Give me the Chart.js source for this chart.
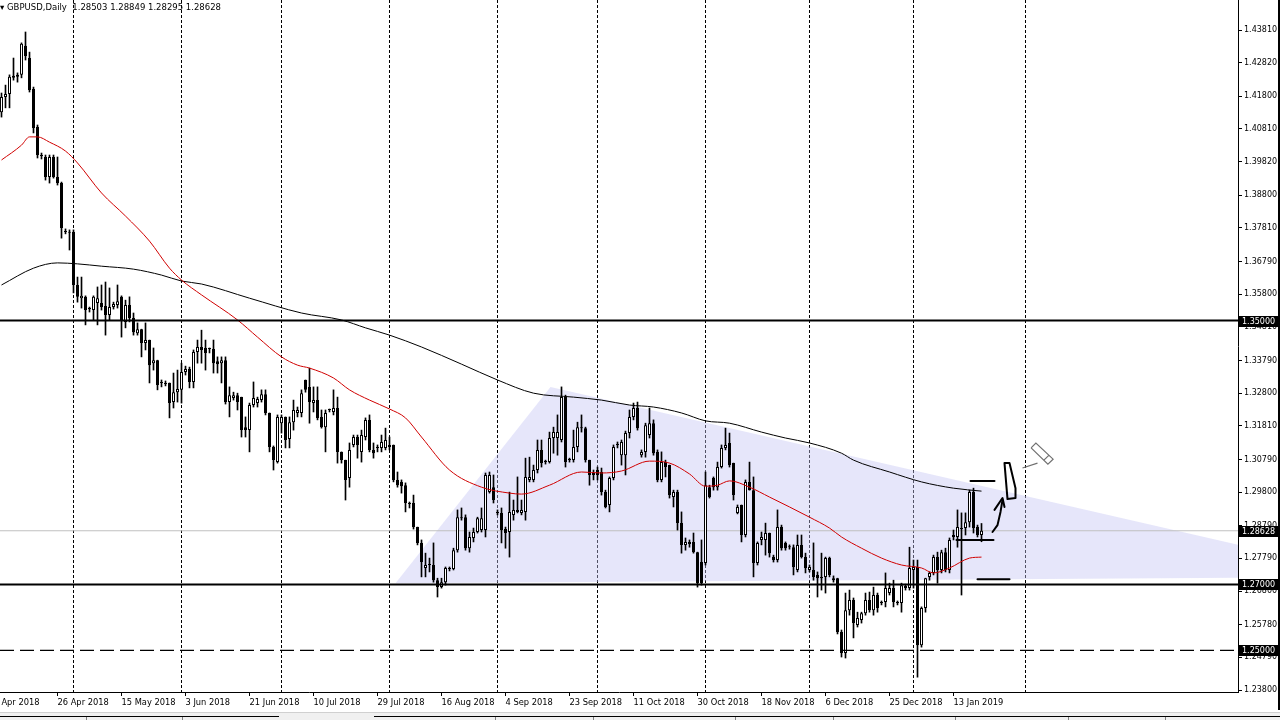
<!DOCTYPE html>
<html><head><meta charset="utf-8">
<script src="https://cdn.jsdelivr.net/npm/chart.js@4.4.1/dist/chart.umd.min.js"></script>
<style>
html,body{margin:0;padding:0;background:#fff;overflow:hidden;}
#wrap{position:relative;width:1280px;height:720px;background:#fff;}
#c{position:absolute;left:0;top:0;}
#hdr{position:absolute;left:0;top:1px;font:8.5px "DejaVu Sans";color:#000;white-space:pre;line-height:12px;}
#rb{position:absolute;left:1278px;top:0;width:2px;height:710px;background:#000;}
#tabs{position:absolute;left:0;top:712px;width:1280px;height:8px;background:#f0f0f0;border-top:1px solid #d0d0d0;}
.tl{position:absolute;top:3px;height:1px;background:#000;}
.tab{position:absolute;top:4px;width:1px;height:4px;background:#808080;}
</style></head>
<body><div id="wrap">
<canvas id="c" width="1280" height="712"></canvas>
<div id="hdr">▾ GBPUSD,Daily  1.28503 1.28849 1.28295 1.28628</div>
<div id="rb"></div>
<div id="tabs">
<div class="tl" style="left:0;width:279px"></div><div class="tl" style="left:374px;width:906px"></div>
<div class="tab" style="left:86px"></div><div class="tab" style="left:182px"></div>
<div class="tab" style="left:495px"></div><div class="tab" style="left:593px"></div><div class="tab" style="left:735px"></div>
<div class="tab" style="left:833px"></div><div class="tab" style="left:955px"></div><div class="tab" style="left:1068px"></div><div class="tab" style="left:1165px"></div>
</div>
</div>
<script>
// ---------------- DATA ----------------
const symbolTitle = 'GBPUSD,Daily';
const firstBarDate = [2018, 3, 10]; // 10 Apr 2018 (UTC y, m0, d) – date of first candle
const opens = [
1.4132,1.4178,1.4187,1.4236,1.4239,1.4245,1.4333,1.4296,1.4202,1.4087,
1.4002,1.3996,1.3935,1.3996,1.3935,1.3917,1.3772,1.3769,1.3769,1.3608,
1.3568,1.3572,1.3535,1.3532,1.3553,1.3553,1.3544,1.3517,1.3541,1.3547,
1.3572,1.3496,1.3547,1.3508,1.3462,1.3474,1.3432,1.3441,1.3371,1.3380,
1.3311,1.3311,1.3311,1.3253,1.3283,1.3290,1.3344,1.3353,1.3314,1.3405,
1.3420,1.3417,1.3414,1.3414,1.3377,1.3371,1.3380,1.3253,1.3265,1.3274,
1.3268,1.3177,1.3168,1.3244,1.3250,1.3259,1.3277,1.3220,1.3117,1.3071,
1.3189,1.3208,1.3141,1.3192,1.3220,1.3220,1.3320,1.3299,1.3250,1.3259,
1.3208,1.3177,1.3229,1.3223,1.3235,1.3102,1.3077,1.3023,1.3123,1.3147,
1.3102,1.3147,1.3199,1.3108,1.3114,1.3114,1.3114,1.3117,1.3123,1.3017,
1.3011,1.3001,1.2944,1.2947,1.2874,1.2826,1.2750,1.2759,1.2759,1.2713,
1.2692,1.2707,1.2747,1.2747,1.2804,1.2901,1.2904,1.2810,1.2841,1.2859,
1.2865,1.2865,1.2980,1.2995,1.2917,1.2917,1.2868,1.2859,1.2911,1.2926,
1.2917,1.2920,1.3017,1.3017,1.3047,1.3108,1.3071,1.3071,1.3144,1.3144,
1.3138,1.3268,1.3077,1.3077,1.3117,1.3177,1.3174,1.3077,1.3038,1.3047,
1.3041,1.2980,1.2941,1.3023,1.3123,1.3092,1.3092,1.3159,1.3208,1.3235,
1.3092,1.3102,1.3153,1.3189,1.3102,1.3017,1.3071,1.3062,1.2965,1.2980,
1.2886,1.2820,1.2823,1.2829,1.2798,1.2768,1.2765,1.2995,1.3023,1.2995,
1.3056,1.3114,1.3129,1.3068,1.2917,1.2941,1.2850,1.3011,1.2986,1.2765,
1.2835,1.2835,1.2856,1.2783,1.2774,1.2874,1.2826,1.2813,1.2813,1.2744,
1.2820,1.2783,1.2744,1.2744,1.2729,1.2719,1.2723,1.2780,1.2713,1.2719,
1.2556,1.2492,1.2622,1.2653,1.2577,1.2592,1.2613,1.2653,1.2622,1.2668,
1.2644,1.2647,1.2674,1.2689,1.2644,1.2644,1.2689,1.2689,1.2744,1.2753,
1.2516,1.2629,1.2723,1.2735,1.2783,1.2744,1.2798,1.2744,1.2850,1.2844,
1.2871,1.2871,1.2889,1.2980,1.2874,1.28503];
const highs = [
1.4190,1.4214,1.4245,1.4296,1.4251,1.4342,1.4375,1.4314,1.4208,1.4093,
1.4008,1.4002,1.4002,1.4002,1.3996,1.3920,1.3778,1.3775,1.3775,1.3632,
1.3632,1.3575,1.3541,1.3575,1.3602,1.3608,1.3617,1.3599,1.3556,1.3608,
1.3575,1.3562,1.3572,1.3523,1.3493,1.3474,1.3493,1.3441,1.3417,1.3380,
1.3320,1.3317,1.3311,1.3341,1.3350,1.3371,1.3362,1.3359,1.3411,1.3441,
1.3471,1.3441,1.3417,1.3441,1.3390,1.3390,1.3390,1.3299,1.3283,1.3280,
1.3268,1.3208,1.3250,1.3314,1.3268,1.3290,1.3290,1.3220,1.3120,1.3214,
1.3214,1.3208,1.3208,1.3259,1.3238,1.3290,1.3320,1.3356,1.3299,1.3299,
1.3229,1.3229,1.3232,1.3290,1.3268,1.3102,1.3077,1.3129,1.3153,1.3153,
1.3168,1.3205,1.3214,1.3129,1.3123,1.3153,1.3174,1.3147,1.3123,1.3041,
1.3017,1.3008,1.2950,1.2971,1.2874,1.2835,1.2795,1.2780,1.2826,1.2719,
1.2719,1.2753,1.2753,1.2810,1.2926,1.2932,1.2911,1.2859,1.2871,1.2904,
1.2932,1.3038,1.3041,1.3032,1.2926,1.2932,1.2874,1.2980,1.2956,1.3026,
1.2956,1.3083,1.3086,1.3062,1.3138,1.3138,1.3077,1.3162,1.3177,1.3214,
1.3299,1.3274,1.3083,1.3168,1.3192,1.3214,1.3177,1.3077,1.3047,1.3056,
1.3053,1.2986,1.3026,1.3123,1.3132,1.3138,1.3165,1.3229,1.3250,1.3253,
1.3108,1.3189,1.3235,1.3199,1.3108,1.3102,1.3077,1.3062,1.2986,1.2986,
1.2920,1.2841,1.2835,1.2856,1.2798,1.2835,1.3041,1.3001,1.3026,1.3071,
1.3123,1.3174,1.3159,1.3068,1.2941,1.2941,1.3017,1.3071,1.3026,1.2829,
1.2859,1.2886,1.2856,1.2789,1.2926,1.2880,1.2829,1.2820,1.2820,1.2850,
1.2850,1.2795,1.2759,1.2826,1.2738,1.2795,1.2783,1.2783,1.2726,1.2719,
1.2562,1.2674,1.2683,1.2659,1.2616,1.2616,1.2674,1.2677,1.2692,1.2674,
1.2650,1.2735,1.2704,1.2713,1.2650,1.2704,1.2701,1.2813,1.2774,1.2774,
1.2632,1.2719,1.2738,1.2789,1.2798,1.2804,1.2810,1.2841,1.2865,1.2926,
1.2917,1.2917,1.2986,1.2992,1.2880,1.28849];
const lows = [
1.4117,1.4145,1.4145,1.4229,1.4223,1.4236,1.4290,1.4193,1.4069,1.3993,
1.3990,1.3926,1.3917,1.3932,1.3911,1.3750,1.3763,1.3714,1.3584,1.3556,
1.3538,1.3487,1.3526,1.3502,1.3487,1.3532,1.3456,1.3502,1.3535,1.3538,
1.3450,1.3478,1.3496,1.3456,1.3456,1.3390,1.3411,1.3311,1.3350,1.3290,
1.3299,1.3302,1.3205,1.3235,1.3253,1.3250,1.3335,1.3296,1.3296,1.3371,
1.3371,1.3350,1.3402,1.3341,1.3341,1.3311,1.3247,1.3208,1.3259,1.3229,
1.3147,1.3147,1.3102,1.3238,1.3238,1.3253,1.3214,1.3102,1.3047,1.3068,
1.3159,1.3114,1.3114,1.3168,1.3208,1.3208,1.3283,1.3189,1.3223,1.3199,
1.3174,1.3102,1.3223,1.3214,1.3068,1.3068,1.2956,1.2995,1.3117,1.3083,
1.3071,1.3138,1.3102,1.3083,1.3102,1.3102,1.3108,1.3108,1.3011,1.2995,
1.2977,1.2920,1.2932,1.2868,1.2820,1.2723,1.2723,1.2738,1.2707,1.2662,
1.2689,1.2698,1.2741,1.2744,1.2798,1.2895,1.2804,1.2798,1.2829,1.2856,
1.2859,1.2844,1.2977,1.2947,1.2911,1.2826,1.2810,1.2783,1.2895,1.2917,
1.2911,1.2895,1.3011,1.3011,1.3038,1.3056,1.3065,1.3068,1.3098,1.3092,
1.3132,1.3056,1.3071,1.3071,1.3102,1.3162,1.3071,1.3001,1.3017,1.3017,
1.2971,1.2932,1.2920,1.3017,1.3114,1.3062,1.3032,1.3144,1.3199,1.3168,
1.3086,1.3086,1.3144,1.3092,1.3011,1.3011,1.3026,1.2962,1.2935,1.2865,
1.2795,1.2804,1.2813,1.2795,1.2692,1.2698,1.2759,1.2962,1.2986,1.2986,
1.3053,1.3108,1.3056,1.2956,1.2914,1.2829,1.2844,1.2986,1.2723,1.2759,
1.2820,1.2789,1.2783,1.2768,1.2768,1.2804,1.2804,1.2807,1.2729,1.2738,
1.2780,1.2735,1.2738,1.2713,1.2662,1.2683,1.2674,1.2723,1.2707,1.2550,
1.2480,1.2477,1.2607,1.2538,1.2571,1.2583,1.2607,1.2616,1.2607,1.2616,
1.2638,1.2632,1.2668,1.2632,1.2638,1.2616,1.2683,1.2683,1.2689,1.2419,
1.2510,1.2616,1.2713,1.2729,1.2704,1.2735,1.2738,1.2735,1.2835,1.2813,
1.2668,1.2850,1.2874,1.2856,1.2844,1.28295];
const closes = [
1.4178,1.4187,1.4239,1.4242,1.4245,1.4339,1.4302,1.4199,1.4084,1.4002,
1.3999,1.3935,1.3996,1.3935,1.3917,1.3781,1.3769,1.3766,1.3608,1.3572,
1.3575,1.3532,1.3535,1.3572,1.3568,1.3541,1.3517,1.3541,1.3550,1.3559,
1.3502,1.3547,1.3508,1.3465,1.3474,1.3432,1.3441,1.3365,1.3380,1.3305,
1.3311,1.3308,1.3250,1.3283,1.3293,1.3344,1.3353,1.3314,1.3405,1.3420,
1.3411,1.3402,1.3414,1.3371,1.3368,1.3380,1.3253,1.3274,1.3274,1.3253,
1.3168,1.3168,1.3244,1.3265,1.3262,1.3277,1.3220,1.3117,1.3077,1.3208,
1.3208,1.3138,1.3192,1.3229,1.3229,1.3280,1.3290,1.3253,1.3259,1.3205,
1.3177,1.3220,1.3229,1.3235,1.3102,1.3077,1.3017,1.3108,1.3147,1.3123,
1.3153,1.3199,1.3108,1.3098,1.3114,1.3132,1.3138,1.3123,1.3017,1.3001,
1.2998,1.2947,1.2944,1.2874,1.2826,1.2768,1.2759,1.2759,1.2713,1.2692,
1.2707,1.2750,1.2747,1.2804,1.2904,1.2904,1.2810,1.2844,1.2859,1.2901,
1.2901,1.3032,1.3032,1.2956,1.2917,1.2865,1.2856,1.2920,1.2926,1.2920,
1.2926,1.3026,1.3026,1.3047,1.3108,1.3068,1.3071,1.3144,1.3162,1.3162,
1.3268,1.3071,1.3077,1.3117,1.3177,1.3174,1.3077,1.3032,1.3032,1.3032,
1.2980,1.2935,1.3023,1.3117,1.3123,1.3132,1.3159,1.3208,1.3235,1.3174,
1.3102,1.3183,1.3189,1.3098,1.3017,1.3071,1.3056,1.2971,1.2980,1.2886,
1.2820,1.2829,1.2829,1.2798,1.2704,1.2704,1.3001,1.2965,1.2995,1.3056,
1.3114,1.3123,1.3062,1.2971,1.2935,1.2850,1.3011,1.2986,1.2765,1.2826,
1.2844,1.2856,1.2795,1.2774,1.2874,1.2810,1.2810,1.2813,1.2753,1.2820,
1.2783,1.2750,1.2753,1.2723,1.2719,1.2723,1.2780,1.2729,1.2719,1.2556,
1.2492,1.2622,1.2653,1.2583,1.2598,1.2613,1.2653,1.2622,1.2668,1.2629,
1.2644,1.2689,1.2689,1.2647,1.2644,1.2698,1.2695,1.2750,1.2753,1.2516,
1.2629,1.2719,1.2735,1.2783,1.2744,1.2798,1.2744,1.2835,1.2844,1.2874,
1.2868,1.2889,1.2980,1.2871,1.2850,1.28628];

// moving averages (bar index, value)
const maFastIdx = [0,5,7,9,12,16,19,25,31,37,42,45,50,59,64,70,74,77,83,87,92,97,101,105,112,120,127,130,137,145,150,155,162,167,172,176,179,182,187,192,197,202,207,210,215,220,225,230,233,237,242,245];
const maFastVal = [1.3987,1.4032,1.4057,1.4057,1.4041,1.4014,1.3978,1.3887,1.3817,1.3741,1.3659,1.3623,1.3578,1.3502,1.3450,1.3390,1.3365,1.3356,1.3326,1.3290,1.3259,1.3232,1.3205,1.3147,1.3047,1.2995,1.2977,1.2974,1.3001,1.3041,1.3038,1.3044,1.3074,1.3068,1.3035,1.2998,1.3001,1.3014,1.2995,1.2965,1.2935,1.2904,1.2871,1.2844,1.2810,1.2780,1.2759,1.2750,1.2735,1.2750,1.2780,1.2783];
const maSlowIdx = [0,8,14,19,25,33,40,45,50,62,75,85,91,97,105,115,124,133,143,150,157,163,170,176,182,190,196,202,210,213,222,230,238,245];
const maSlowVal = [1.3608,1.3659,1.3675,1.3672,1.3665,1.3656,1.3638,1.3620,1.3611,1.3568,1.3523,1.3502,1.3478,1.3456,1.3420,1.3368,1.3320,1.3280,1.3268,1.3259,1.3244,1.3238,1.3220,1.3196,1.3189,1.3162,1.3144,1.3129,1.3098,1.3077,1.3041,1.3011,1.2992,1.2983];

// horizontal levels, bid and tags
const solidLevels = [1.35, 1.27];
const dashedLevels = [1.25];
const bidPrice = 1.28628;
const priceTags = [1.35, 1.28628, 1.27, 1.25];

// triangle object (bar index, price)
const triangleIdx = [98.5, 137.25, 344.1];
const triangleVal = [1.2704, 1.3299, 1.2723];

// hand-drawn pen strokes (bar index, price)
const penStrokes = [
  [[242.25,1.3014],[248.25,1.3014]],
  [[238.75,1.2835],[248,1.2835]],
  [[244,1.2716],[252,1.2716]],
  [[250.75,1.3068],[251.5,1.2959],[253.5,1.2962],[253.5,1.2992],[252,1.3068],[250.75,1.3068]],
  [[247.75,1.2859],[249,1.2880],[249.75,1.2920],[250.25,1.2956]],
  [[248.25,1.2926],[250.25,1.2962],[250.75,1.2935]]
];
const greyStrokes = [
  [[255.25,1.3053],[259,1.3068]],
  [[257.4,1.3114],[258.6,1.3129],[262.9,1.3080],[261.6,1.3065],[257.4,1.3114]],
  [[261.9,1.3092],[260.6,1.3077]]
];

// axis tick labels
const priceTicks = [1.43810,1.42820,1.41800,1.40810,1.39820,1.38800,1.37810,1.36790,1.35800,1.34810,1.33790,1.32800,1.31810,1.30790,1.29800,1.28790,1.27790,1.26800,1.25780,1.24790,1.23800];
const dateTicks = ['8 Apr 2018','26 Apr 2018','15 May 2018','3 Jun 2018','21 Jun 2018','10 Jul 2018','29 Jul 2018','16 Aug 2018','4 Sep 2018','23 Sep 2018','11 Oct 2018','30 Oct 2018','18 Nov 2018','6 Dec 2018','25 Dec 2018','13 Jan 2019'];

// ---------------- LAYOUT ----------------
const X_MIN = -0.375, X_MAX = X_MIN + 1238 / 4;
const Y_MIN = 1.2374, Y_MAX = 1.4472;
const LAST = opens.length - 1;
const MON = ['Jan','Feb','Mar','Apr','May','Jun','Jul','Aug','Sep','Oct','Nov','Dec'];
const DAY = 86400000;
const FIRST_T = Date.UTC(firstBarDate[0], firstBarDate[1], firstBarDate[2]);
// bar calendar: Sunday–Friday bars up to the last candle, calendar days after it
const dateOf = {};
(function(){
  let t = FIRST_T; dateOf[0] = t;
  for (let k = 1; k <= Math.ceil(X_MAX) + 1; k++) {
    t += DAY;
    if (k <= LAST) { while (new Date(t).getUTCDay() === 6) t += DAY; }
    dateOf[k] = t;
  }
  t = FIRST_T;
  for (let k = -1; k >= -5; k--) {
    t -= DAY; while (new Date(t).getUTCDay() === 6) t -= DAY;
    dateOf[k] = t;
  }
})();
const fmt = t => { const d = new Date(t); return d.getUTCDate() + ' ' + MON[d.getUTCMonth()] + ' ' + d.getUTCFullYear(); };
const labelOf = {};
Object.keys(dateOf).forEach(k => labelOf[k] = fmt(dateOf[k]));
const xTickIdx = dateTicks.map(s => Number(Object.keys(labelOf).find(k => labelOf[k] === s)));
const monthIdx = [];
for (let k = 1; k <= LAST + 20; k++) {
  if (new Date(dateOf[k]).getUTCMonth() !== new Date(dateOf[k-1]).getUTCMonth()) monthIdx.push(k);
}

const wickData = opens.map((o, i) => ({x: i, y: [lows[i], highs[i]]}));
const bodyData = opens.map((o, i) => ({x: i, y: [o, closes[i]]}));
const bodyFill = opens.map((o, i) => closes[i] >= o ? '#ffffff' : '#000000');
const pts = (idx, val) => idx.map((x, i) => ({x, y: val[i]}));
const hline = v => [{x: X_MIN - 5, y: v}, {x: X_MAX + 5, y: v}];

const datasets = [];
datasets.push({type:'line', data: pts(triangleIdx.concat([triangleIdx[0]]), triangleVal.concat([triangleVal[0]])),
  fill:'shape', backgroundColor:'rgba(196,196,244,0.42)', borderWidth:0, pointRadius:0, order:20});
datasets.push({type:'line', data: hline(bidPrice), borderColor:'#c0c0c0', borderWidth:1, pointRadius:0, fill:false, order:19});
datasets.push({type:'bar', data: wickData, backgroundColor:'#000', borderWidth:0, barThickness:1, grouped:false, order:15});
datasets.push({type:'bar', data: bodyData, backgroundColor: bodyFill, borderColor:'#000', borderWidth:1, borderSkipped:false,
  barThickness:3, grouped:false, minBarLength:1, inflateAmount:0, order:14});
datasets.push({type:'line', data: pts(maSlowIdx, maSlowVal), borderColor:'#000', borderWidth:1, pointRadius:0, fill:false, cubicInterpolationMode:'monotone', order:10});
datasets.push({type:'line', data: pts(maFastIdx, maFastVal), borderColor:'#d00000', borderWidth:1, pointRadius:0, fill:false, cubicInterpolationMode:'monotone', order:9});
solidLevels.forEach(v => datasets.push({type:'line', data: hline(v), borderColor:'#000', borderWidth:2, pointRadius:0, fill:false, order:5}));
dashedLevels.forEach(v => datasets.push({type:'line', data: hline(v), borderColor:'#000', borderWidth:1.3, borderDash:[14,6], pointRadius:0, fill:false, order:5}));
penStrokes.forEach(s => datasets.push({type:'line', data: s.map(p => ({x:p[0], y:p[1]})), borderColor:'#000', borderWidth:2, pointRadius:0, fill:false, order:1, borderJoinStyle:'round', borderCapStyle:'round'}));
greyStrokes.forEach(s => datasets.push({type:'line', data: s.map(p => ({x:p[0], y:p[1]})), borderColor:'#707070', borderWidth:1.2, pointRadius:0, fill:false, order:1}));

const tagPlugin = {
  id: 'tags',
  afterDraw(chart) {
    const ys = chart.scales.y, ctx = chart.ctx;
    ctx.save();
    ctx.font = '8px "DejaVu Sans"';
    ctx.textBaseline = 'middle';
    priceTags.forEach(v => {
      const py = Math.round(ys.getPixelForValue(v));
      ctx.fillStyle = '#000';
      ctx.fillRect(ys.left + 1, py - 5, 40, 11);
      ctx.fillStyle = '#fff';
      ctx.fillText(v.toFixed(5), ys.left + 4, py + 0.5);
    });
    ctx.restore();
  }
};

new Chart(document.getElementById('c'), {
  type: 'bar',
  data: { datasets },
  plugins: [tagPlugin],
  options: {
    responsive: false, animation: false, devicePixelRatio: 1, events: [],
    layout: { padding: 0 },
    plugins: { legend: {display:false}, tooltip: {enabled:false}, title: {display:false} },
    scales: {
      x: {
        type:'linear', position:'bottom', min:X_MIN, max:X_MAX, offset:false,
        afterBuildTicks: s => { s.ticks = xTickIdx.map(v => ({value:v})); },
        afterFit: s => { s.height = 20; s.paddingLeft = 0; s.paddingRight = 0; },
        ticks: { align:'start', autoSkip:false, maxRotation:0, minRotation:0, padding:2, color:'#000',
          font:{family:'DejaVu Sans', size:8.3}, callback: v => labelOf[v] },
        grid: { drawOnChartArea:false, drawTicks:true, tickLength:4, tickColor:'#000', offset:false },
        border: { display:true, color:'#000', width:1 }
      },
      xm: {
        type:'linear', position:'bottom', min:X_MIN, max:X_MAX, offset:false,
        afterBuildTicks: s => { s.ticks = monthIdx.map(v => ({value:v})); },
        afterFit: s => { s.height = 0; s.paddingLeft = 0; s.paddingRight = 0; },
        ticks: { display:false },
        grid: { drawOnChartArea:true, drawTicks:false, color:'#000', lineWidth:1, offset:false },
        border: { display:false, dash:[3,2] }
      },
      y: {
        type:'linear', position:'right', min:Y_MIN, max:Y_MAX,
        afterBuildTicks: s => { s.ticks = priceTicks.map(v => ({value:v})); },
        afterFit: s => { s.width = 42; s.paddingTop = 0; s.paddingBottom = 0; },
        ticks: { autoSkip:false, padding:2, color:'#000', font:{family:'DejaVu Sans', size:8}, callback: v => Number(v).toFixed(5) },
        grid: { drawOnChartArea:false, drawTicks:true, tickLength:4, color:'#000' },
        border: { display:true, color:'#000', width:1 }
      }
    }
  }
});
</script>
</body></html>
